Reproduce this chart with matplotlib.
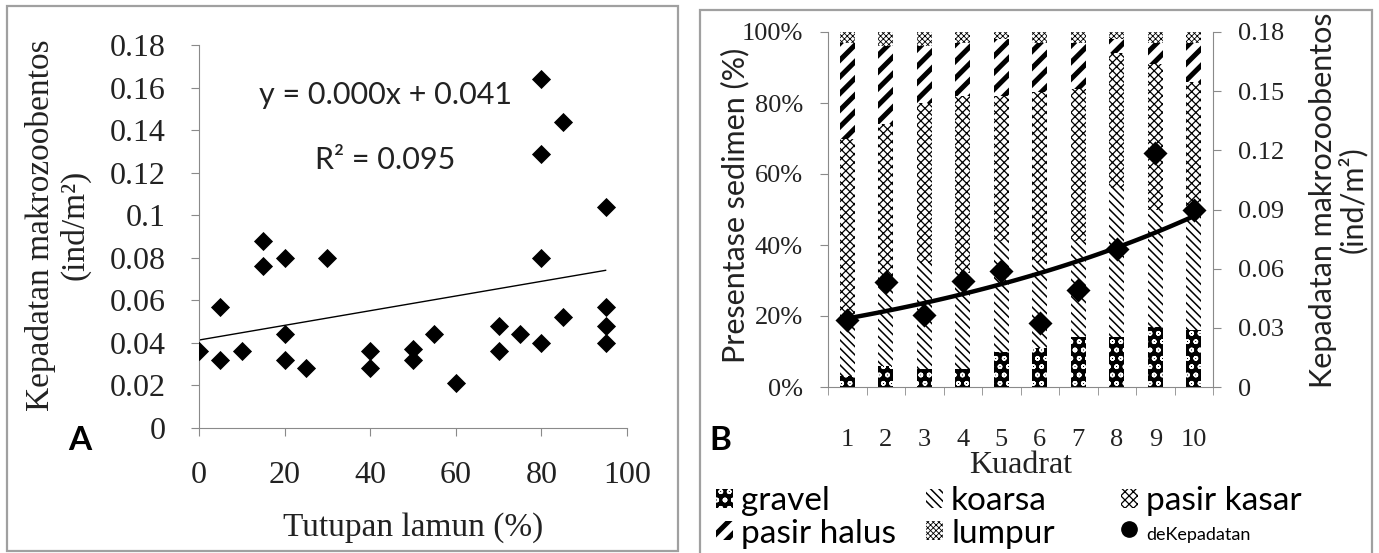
import numpy as np
import matplotlib
matplotlib.use("Agg")
import matplotlib.pyplot as plt
from matplotlib.patches import Rectangle
from matplotlib.lines import Line2D

# ---------------- data: panel A ----------------
tutupan = [0, 5, 5, 10, 15, 15, 20, 20, 20, 25, 30, 40, 40, 50, 50, 55, 60,
           70, 70, 75, 80, 80, 80, 80, 85, 85, 95, 95, 95, 95]
kepadatan_a = [0.036, 0.057, 0.032, 0.036, 0.088, 0.076, 0.080, 0.044, 0.032,
               0.028, 0.080, 0.036, 0.028, 0.037, 0.032, 0.044, 0.021,
               0.048, 0.036, 0.044, 0.164, 0.129, 0.080, 0.040, 0.144, 0.052,
               0.104, 0.057, 0.048, 0.040]
eq_text = "y = 0.000x + 0.041"
r2_text = "R\u00b2 = 0.095"

# ---------------- data: panel B ----------------
kuadrat = ["1", "2", "3", "4", "5", "6", "7", "8", "9", "10"]
gravel = [3, 6, 5, 5, 10, 11, 14, 14, 17, 16]
koarsa = [17, 25, 30, 27, 31, 24, 27, 42, 33, 33]
pasir_kasar = [50, 43, 45, 50, 41, 48, 43, 38, 41, 37]
pasir_halus = [27, 22, 16, 15, 16, 14, 13, 4, 6, 11]
lumpur = [3, 4, 4, 3, 2, 3, 3, 2, 3, 3]
kepadatan_b = [0.034, 0.053, 0.0365, 0.054, 0.059, 0.0324, 0.049, 0.070, 0.1186, 0.0897]

plt.rcParams['font.family'] = ['Liberation Serif', 'DejaVu Serif']
SANS = ['Lato', 'DejaVu Sans']
GRAY = '#8a8a8a'
W, H = 1379, 553

fig = plt.figure(figsize=(W / 100, H / 100), dpi=100)


def fx(px):
    return px / W


def fy(py):
    return 1 - py / H


def set_hlw(patch, lw):
    if hasattr(patch, 'set_hatch_linewidth'):
        patch.set_hatch_linewidth(lw)
    else:
        patch._hatch_linewidth = lw


# panel frames
for (x0, y0, x1, y1) in [(7, 6, 678, 551), (700, 10, 1372, 560)]:
    fig.patches.append(Rectangle((fx(x0), fy(y1)), fx(x1 - x0), (y1 - y0) / H,
                                 transform=fig.transFigure, fill=False,
                                 edgecolor='#a0a0a0', linewidth=1.6, zorder=0))

# ---------------- panel A ----------------
axA = fig.add_axes([fx(199), fy(428), fx(627 - 199), (428 - 45) / H])
axA.scatter(tutupan, kepadatan_a, marker='D', s=95, color='black', zorder=3,
            linewidths=0)
coef = np.polyfit(tutupan, kepadatan_a, 1)
xl = np.array([min(tutupan), max(tutupan)])
axA.plot(xl, np.polyval(coef, xl), color='black', linewidth=1.0)
axA.set_xlim(0, 100)
axA.set_ylim(0, 0.18)
axA.set_xticks(np.arange(0, 101, 20))
yt = np.arange(0, 0.181, 0.02)
axA.set_yticks(yt)
axA.set_yticklabels(['0' if v == 0 else ('0.1' if abs(v - 0.1) < 1e-9 else '%.2f' % v)
                     for v in yt])
for s in ['top', 'right']:
    axA.spines[s].set_visible(False)
for s in ['left', 'bottom']:
    axA.spines[s].set_color(GRAY)
axA.tick_params(axis='both', colors=GRAY, labelcolor='#222222', labelsize=23,
                length=6, direction='out')
axA.tick_params(axis='x', pad=18)
axA.tick_params(axis='y', pad=18)
axA.set_xlabel("Tutupan lamun (%)", fontsize=24, color='#222222', labelpad=16)
axA.set_ylabel("Kepadatan makrozoobentos\n(ind/m\u00b2)", fontsize=24,
               color='#222222', linespacing=1.15)
axA.yaxis.set_label_coords((58 - 199) / (627 - 199), (428 - 225) / (428 - 45))
axA.yaxis.label.set(ha='center', va='center')
axA.text(0.435, 0.869, eq_text, transform=axA.transAxes, fontsize=22,
         family=SANS, ha='center', va='center', color='#222222')
axA.text(0.435, 0.70, r2_text, transform=axA.transAxes, fontsize=22,
         family=SANS, ha='center', va='center', color='#222222')
fig.text(fx(80), fy(440), "A", fontsize=24, fontweight='bold', family=SANS,
         ha='center', va='center')

# ---------------- panel B ----------------
axB = fig.add_axes([fx(828), fy(387), fx(1213 - 828), (387 - 32) / H])
pos = np.arange(len(kuadrat)) + 0.5
series = [
    ("gravel", gravel, dict(facecolor='black', edgecolor='white', hatch='oo'), 1.1),
    ("koarsa", koarsa, dict(facecolor='white', edgecolor='black', hatch='\\\\\\\\'), 1.1),
    ("pasir kasar", pasir_kasar, dict(facecolor='white', edgecolor='black', hatch='xxxx'), 0.9),
    ("pasir halus", pasir_halus, dict(facecolor='white', edgecolor='black', hatch='//'), 3.6),
    ("lumpur", lumpur, dict(facecolor='white', edgecolor='black', hatch='xxxxxx'), 0.6),
]
hatch_lw = {}
bottom = np.zeros(len(kuadrat))
handles = {}
for name, vals, style, hlw in series:
    vals = np.array(vals, dtype=float)
    with plt.rc_context({'hatch.linewidth': hlw}):
        bc = axB.bar(pos, vals, 0.39, bottom=bottom, linewidth=0, label=name,
                     **style)
    for p in bc.patches:
        set_hlw(p, hlw)
    handles[name] = bc
    hatch_lw[name] = hlw
    bottom += vals
axB.set_xlim(0, 10)
axB.set_ylim(0, 100)
axB.set_yticks(np.arange(0, 101, 20))
axB.set_yticklabels(['%d%%' % v for v in range(0, 101, 20)])
axB.set_xticks(pos)
axB.set_xticklabels(kuadrat)
axB.set_xticks(np.arange(0, 11), minor=True)
axB.tick_params(axis='x', which='major', length=0, pad=30)
axB.tick_params(axis='x', which='minor', length=6, colors=GRAY)
axB.tick_params(axis='y', length=6, colors=GRAY, pad=12)
axB.tick_params(axis='both', which='major', labelsize=19, labelcolor='#222222')
for s in ['top', 'right']:
    axB.spines[s].set_visible(False)
for s in ['left', 'bottom']:
    axB.spines[s].set_color(GRAY)
axB.set_xlabel("Kuadrat", fontsize=23, color='#222222', labelpad=0)
axB.set_ylabel("Presentase sedimen (%)", fontsize=22, family=SANS, color='#222222')
axB.yaxis.set_label_coords((735 - 828) / (1213 - 828), (387 - 205) / (387 - 32))
axB.yaxis.label.set(ha='center', va='center')

axR = axB.twinx()
axR.set_ylim(0, 0.18)
axR.set_yticks(np.arange(0, 0.181, 0.03))
axR.set_yticklabels(['0'] + ['%.2f' % v for v in np.arange(0.03, 0.181, 0.03)])
for s in ['top', 'left', 'bottom']:
    axR.spines[s].set_visible(False)
axR.spines['right'].set_color(GRAY)
axR.tick_params(axis='y', length=6, colors=GRAY, labelcolor='#222222',
                labelsize=19, pad=12)
axR.scatter(pos, kepadatan_b, marker='D', s=150, color='black', zorder=4,
            linewidths=0, label='deKepadatan')
# exponential trend line
kb = np.polyfit(pos + 0.5, np.log(kepadatan_b), 1)
xt = np.linspace(pos[0], pos[-1], 100)
axR.plot(xt, np.exp(np.polyval(kb, xt + 0.5)), color='black', linewidth=3.2,
         zorder=3)
axR.set_ylabel("Kepadatan makrozoobentos\n(ind/m\u00b2)", fontsize=22,
               family=SANS, color='#222222', linespacing=1.05)
axR.yaxis.set_label_coords((1338 - 828) / (1213 - 828), (387 - 200) / (387 - 32))
axR.yaxis.label.set(ha='center', va='center')

fig.text(fx(720), fy(440), "B", fontsize=24, fontweight='bold', family=SANS,
         ha='center', va='center')

# legend: three columns placed like the reference
dot = Line2D([], [], marker='o', linestyle='none', color='black', markersize=11)
columns = [(['gravel', 'pasir halus'], 716),
           (['koarsa', 'lumpur'], 926),
           (['pasir kasar', 'deKepadatan'], 1121)]
for names, xpos in columns:
    hs = [handles[n] if n in handles else dot for n in names]
    leg = fig.legend(hs, names, loc='upper left',
                     bbox_to_anchor=(fx(xpos), fy(486)), frameon=False,
                     prop={'family': SANS, 'size': 24}, handlelength=0.5,
                     handleheight=0.5, handletextpad=0.25,
                     labelspacing=0.08, borderaxespad=0, borderpad=0)
    for n, h, t in zip(names, leg.legend_handles, leg.get_texts()):
        if n in hatch_lw:
            set_hlw(h, hatch_lw[n])
        else:
            t.set_fontsize(13)

fig.savefig("out.png", dpi=100)
